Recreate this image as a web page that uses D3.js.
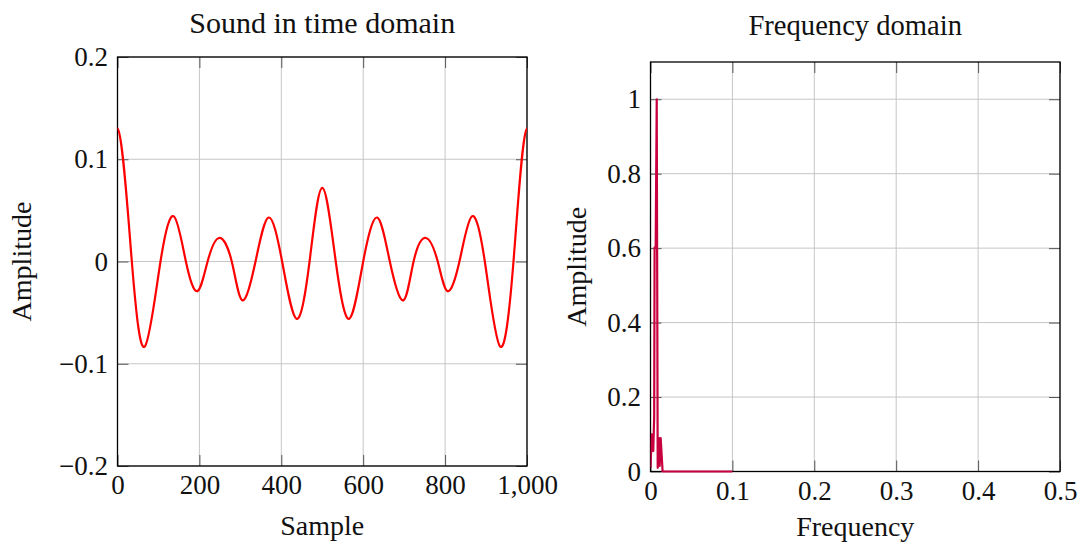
<!DOCTYPE html>
<html>
<head>
<meta charset="utf-8">
<script src="https://cdn.jsdelivr.net/npm/d3@7/dist/d3.min.js"></script>
<style>
  html, body { margin: 0; padding: 0; background: #fff; }
  svg { display: block; }
</style>
</head>
<body>
<svg id="chart" width="1083" height="544"></svg>
<script>
// ---------- data ----------
// periodic signal: one neighbouring zero crossing outside each end keeps the peaks at 0 and 1000 flat (clipped away)
const timeSamples = [-33, 0, 35, 67, 105, 138, 167, 195, 220, 248, 279, 305, 337, 369, 402, 437, 469, 500,
  533, 566, 600, 634, 665, 698, 723, 753, 782, 806, 835, 865, 897, 934, 967, 1000, 1033];
const timeAmplitude = [0, 0.130, 0, -0.083, 0, 0.044, 0, -0.029, 0, 0.023, 0, -0.038, 0, 0.043, 0, -0.056, 0, 0.072,
  0, -0.056, 0, 0.043, 0, -0.038, 0, 0.023, 0, -0.029, 0, 0.044, 0, -0.083, 0, 0.130, 0];

const freqValues = [0, 0.0015, 0.0034, 0.0045, 0.005, 0.0063, 0.0076, 0.0088, 0.0103, 0.0112, 0.0124, 0.0148, 0.1];
const freqAmplitude = [0.01, 0.1, 0.055, 0.148, 0.602, 0.602, 1.0, 0.01, 0.09, 0.015, 0.09, 0, 0];

const timeXTicks = [0, 200, 400, 600, 800, 1000];
const timeYTicks = [-0.2, -0.1, 0, 0.1, 0.2];
const freqXTicks = [0, 0.1, 0.2, 0.3, 0.4, 0.5];
const freqYTicks = [0, 0.2, 0.4, 0.6, 0.8, 1];

const titles = ["Sound in time domain", "Frequency domain"];
const xLabels = ["Sample", "Frequency"];
const yLabel = "Amplitude";

// ---------- drawing ----------
const FONT = "'Liberation Serif', 'Times New Roman', serif";
const svg = d3.select("#chart");

function panel(cfg) {
  const { left, right, top, bottom } = cfg.box;
  const w = right - left, h = bottom - top;
  const x = d3.scaleLinear().domain(cfg.xDomain).range([left, right]);
  const y = d3.scaleLinear().domain(cfg.yDomain).range([bottom, top]);
  const g = svg.append("g");

  g.append("clipPath").attr("id", cfg.id).append("rect")
    .attr("x", left).attr("y", top - 2).attr("width", w).attr("height", h + 4);

  // grid
  g.append("g").selectAll("line").data(cfg.xTicks).join("line")
    .attr("x1", d => x(d)).attr("x2", d => x(d)).attr("y1", top).attr("y2", bottom)
    .attr("stroke", "#c6c6c6").attr("stroke-width", 1);
  g.append("g").selectAll("line").data(cfg.yTicks).join("line")
    .attr("y1", d => y(d)).attr("y2", d => y(d)).attr("x1", left).attr("x2", right)
    .attr("stroke", "#c6c6c6").attr("stroke-width", 1);

  const tl = 11;
  const axB = d3.axisBottom(x).tickValues(cfg.xTicks).tickSizeInner(-tl).tickSizeOuter(0).tickPadding(9).tickFormat(cfg.xFmt);
  const axL = d3.axisLeft(y).tickValues(cfg.yTicks).tickSizeInner(-tl).tickSizeOuter(0).tickPadding(9.5).tickFormat(cfg.yFmt);
  const axT = d3.axisTop(x).tickValues(cfg.xTicks).tickSizeInner(-tl).tickSizeOuter(0).tickFormat("");
  const axR = d3.axisRight(y).tickValues(cfg.yTicks).tickSizeInner(-tl).tickSizeOuter(0).tickFormat("");

  const gb = g.append("g").attr("transform", `translate(0,${bottom})`).call(axB);
  const gl = g.append("g").attr("transform", `translate(${left},0)`).call(axL);
  const gt = g.append("g").attr("transform", `translate(0,${top})`).call(axT);
  const gr = g.append("g").attr("transform", `translate(${right},0)`).call(axR);
  [gb, gl, gt, gr].forEach(a => {
    a.select(".domain").remove();
    a.selectAll(".tick line").attr("stroke", "#555").attr("stroke-width", 1);
    a.selectAll(".tick text").attr("font-family", FONT).attr("font-size", 27).attr("fill", "#111");
  });

  // frame
  g.append("rect").attr("x", left).attr("y", top).attr("width", w).attr("height", h)
    .attr("fill", "none").attr("stroke", "#000").attr("stroke-width", 1.3);

  // data line
  const pts = cfg.xs.map((v, i) => [v, cfg.ys[i]]);
  g.append("path").datum(pts)
    .attr("clip-path", `url(#${cfg.id})`)
    .attr("d", d3.line().x(d => x(d[0])).y(d => y(d[1])).curve(cfg.curve))
    .attr("fill", "none").attr("stroke", cfg.color).attr("stroke-width", 2.2)
    .attr("stroke-linejoin", "round");

  // title
  g.append("text").attr("x", (left + right) / 2).attr("y", cfg.titleY)
    .attr("text-anchor", "middle").attr("font-family", FONT).attr("font-size", cfg.titleSize).attr("fill", "#111")
    .text(cfg.title);
  // x label
  g.append("text").attr("x", (left + right) / 2).attr("y", cfg.xLabelY)
    .attr("text-anchor", "middle").attr("font-family", FONT).attr("font-size", 28).attr("fill", "#111")
    .text(cfg.xLabel);
  // y label
  g.append("text")
    .attr("transform", `translate(${cfg.yLabelX},${(top + bottom) / 2}) rotate(-90)`)
    .attr("text-anchor", "middle").attr("font-family", FONT).attr("font-size", 28).attr("fill", "#111")
    .text(yLabel);
}

const fmtSigned = d => d === 0 ? "0" : d3.format(".1f")(d);

panel({
  id: "clipTime",
  box: { left: 117.5, right: 527, top: 57, bottom: 466 },
  xDomain: [0, 1000], yDomain: [-0.2, 0.2],
  xTicks: timeXTicks, yTicks: timeYTicks,
  xFmt: d3.format(","), yFmt: fmtSigned,
  xs: timeSamples, ys: timeAmplitude,
  curve: d3.curveNatural, color: "#ff0000",
  title: titles[0], titleSize: 30, titleY: 33, xLabel: xLabels[0], xLabelY: 535, yLabelX: 31
});

panel({
  id: "clipFreq",
  box: { left: 650.5, right: 1060, top: 62, bottom: 471.5 },
  xDomain: [0, 0.5], yDomain: [0, 1.1],
  xTicks: freqXTicks, yTicks: freqYTicks,
  xFmt: d3.format("~g"), yFmt: d3.format("~g"),
  xs: freqValues, ys: freqAmplitude,
  curve: d3.curveLinear, color: "#c8003f",
  title: titles[1], titleSize: 28.6, titleY: 34.5, xLabel: xLabels[1], xLabelY: 536, yLabelX: 586
});
</script>
</body>
</html>
